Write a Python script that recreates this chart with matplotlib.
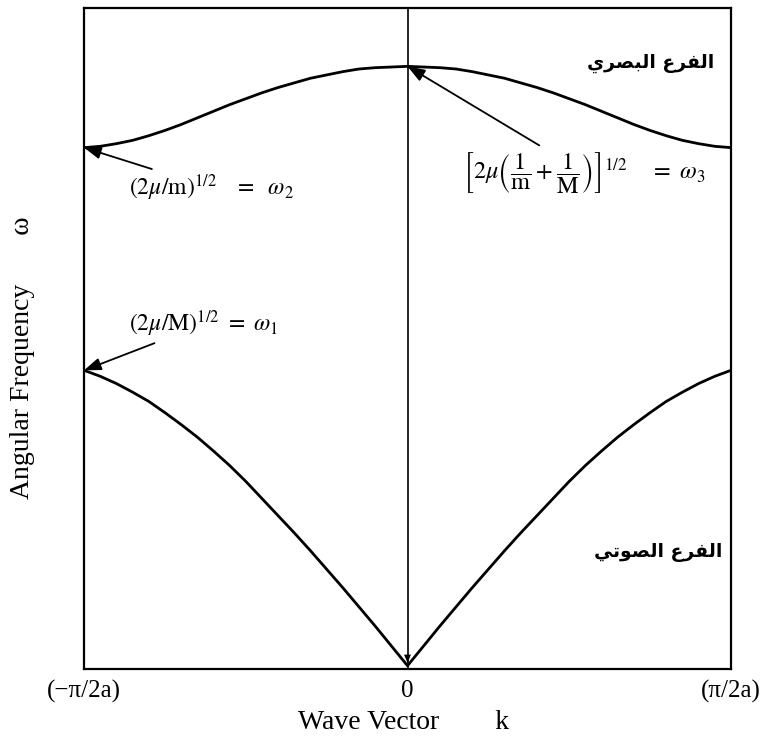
import matplotlib

matplotlib.use("Agg")
import matplotlib.pyplot as plt  # noqa: E402

plt.rcParams["mathtext.fontset"] = "stix"
plt.rcParams["font.family"] = ["Liberation Serif", "DejaVu Serif"]

# wave vector in units of pi/2a
k = [-1.0, -0.95, -0.9, -0.85, -0.8, -0.75, -0.7, -0.65, -0.6, -0.55, -0.5,
     -0.45, -0.4, -0.35, -0.3, -0.25, -0.2, -0.15, -0.1, -0.05, 0.0,
     0.05, 0.1, 0.15, 0.2, 0.25, 0.3, 0.35, 0.4, 0.45, 0.5,
     0.55, 0.6, 0.65, 0.7, 0.75, 0.8, 0.85, 0.9, 0.95, 1.0]
# angular frequency (relative to frame height)
optical = [0.789, 0.791, 0.795, 0.800, 0.807, 0.815, 0.824, 0.834, 0.844, 0.854, 0.863,
           0.872, 0.880, 0.887, 0.894, 0.899, 0.904, 0.908, 0.910, 0.911, 0.912,
           0.911, 0.910, 0.908, 0.904, 0.899, 0.894, 0.887, 0.880, 0.872, 0.863,
           0.854, 0.844, 0.834, 0.824, 0.815, 0.807, 0.800, 0.795, 0.791, 0.789]
acoustic = [0.452, 0.443, 0.432, 0.419, 0.405, 0.388, 0.370, 0.351, 0.330, 0.308, 0.284,
            0.258, 0.232, 0.206, 0.179, 0.151, 0.123, 0.094, 0.065, 0.035, 0.005,
            0.035, 0.065, 0.094, 0.123, 0.151, 0.179, 0.206, 0.232, 0.258, 0.284,
            0.308, 0.330, 0.351, 0.370, 0.388, 0.405, 0.419, 0.432, 0.443, 0.452]

tick_pos = [-1, 0, 1]
tick_labels = ["(\u2212\u03c0/2a)", "0", "(\u03c0/2a)"]

optical_label = "الفرع البصري"
acoustic_label = "الفرع الصوتي"

# --- minimal Arabic shaping (matplotlib does no shaping / bidi) ---
_FORMS = {  # isolated, final, initial, medial
    "ا": ("\ufe8d", "\ufe8e", None, None),
    "ب": ("\ufe8f", "\ufe90", "\ufe91", "\ufe92"),
    "ت": ("\ufe95", "\ufe96", "\ufe97", "\ufe98"),
    "ر": ("\ufead", "\ufeae", None, None),
    "ص": ("\ufeb9", "\ufeba", "\ufebb", "\ufebc"),
    "ع": ("\ufec9", "\ufeca", "\ufecb", "\ufecc"),
    "ف": ("\ufed1", "\ufed2", "\ufed3", "\ufed4"),
    "ل": ("\ufedd", "\ufede", "\ufedf", "\ufee0"),
    "و": ("\ufeed", "\ufeee", None, None),
    "ي": ("\ufef1", "\ufef2", "\ufef3", "\ufef4"),
}


def _dual(c):
    return c in _FORMS and _FORMS[c][2] is not None


def shape(text):
    out = []
    for i, c in enumerate(text):
        if c not in _FORMS:
            out.append(c)
            continue
        prev = text[i - 1] if i > 0 else ""
        nxt = text[i + 1] if i + 1 < len(text) else ""
        join_prev = _dual(prev)
        join_next = _dual(c) and nxt in _FORMS
        iso, fin, ini, med = _FORMS[c]
        if join_prev and join_next:
            out.append(med)
        elif join_prev:
            out.append(fin)
        elif join_next:
            out.append(ini)
        else:
            out.append(iso)
    return "".join(reversed(out))


fig = plt.figure(figsize=(7.66, 7.46), dpi=100)
ax = fig.add_axes([0.1097, 0.1032, 0.8446, 0.8858])

ax.plot(k, optical, color="black", lw=2.0)
ax.plot(k, acoustic, color="black", lw=2.0)
ax.axvline(0, color="black", lw=1.2)

ax.set_xlim(-1, 1)
ax.set_ylim(0, 1)
for s in ax.spines.values():
    s.set_linewidth(1.6)
ax.set_yticks([])
ax.set_xticks(tick_pos)
ax.set_xticklabels(tick_labels, fontsize=18)
ax.tick_params(axis="x", length=0, pad=8)

arrow = dict(arrowstyle="-|>,head_length=0.6,head_width=0.22",
             color="black", lw=1.3, shrinkA=2, shrinkB=0)

ax.annotate(r"$(2\mu/\mathrm{m})^{1/2}\ \ \ =\ \ \omega_2$", xy=(-1, optical[0]),
            xytext=(-0.86, 0.728), ha="left", va="center", fontsize=17,
            arrowprops=arrow)
ax.annotate(r"$(2\mu/\mathrm{M})^{1/2}\ =\ \omega_1$", xy=(-1, acoustic[0]),
            xytext=(-0.86, 0.522), ha="left", va="center", fontsize=17,
            arrowprops=arrow)
ax.annotate(r"$\left[2\mu\left(\dfrac{1}{\mathrm{m}}+\dfrac{1}{\mathrm{M}}\right)\right]^{1/2}\ \ \ \ =\ \omega_3$",
            xy=(0, optical[20]), xytext=(0.17, 0.752), ha="left", va="center",
            fontsize=17.5, arrowprops=arrow)
ax.annotate("", xy=(0, acoustic[20]), xytext=(0, 0.05),
            arrowprops=dict(arrowstyle="-|>,head_length=0.6,head_width=0.25",
                            color="black", lw=0))

ax.text(0.753, 0.916, shape(optical_label), ha="center", va="center",
        fontsize=13.5, fontweight="bold", family=["DejaVu Sans"])
ax.text(0.774, 0.177, shape(acoustic_label), ha="center", va="center",
        fontsize=13.5, fontweight="bold", family=["DejaVu Sans"])

fig.text(0.527, 0.032, "Wave Vector        k", ha="center", va="center", fontsize=20)
fig.text(0.03, 0.52, "Angular Frequency       \u03c9", ha="center", va="center",
         fontsize=20, rotation=90)

fig.savefig("out.png", dpi=100)
plt.close(fig)
